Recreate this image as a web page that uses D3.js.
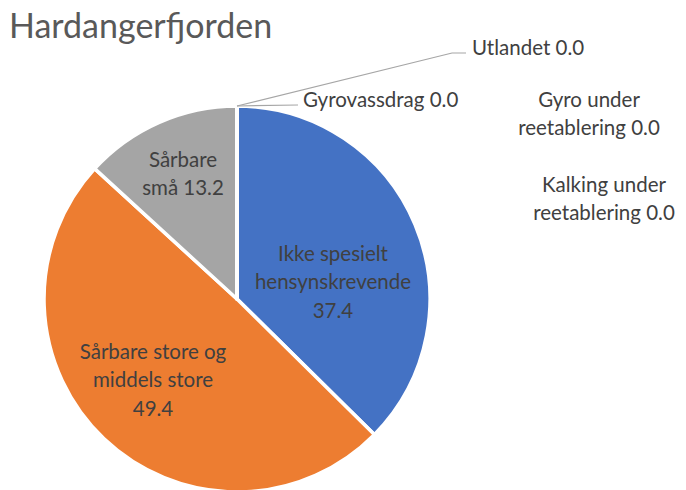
<!DOCTYPE html>
<html>
<head>
<meta charset="utf-8">
<script src="https://cdn.jsdelivr.net/npm/d3@7"></script>
<style>
  body { margin: 0; background: #fff; }
  text { font-family: Lato, "Open Sans", sans-serif; }
</style>
</head>
<body>
<svg id="chart"></svg>
<script>
// data
const categories = ["Ikke spesielt hensynskrevende", "Sårbare store og middels store", "Sårbare små",
  "Gyrovassdrag", "Utlandet", "Gyro under reetablering", "Kalking under reetablering"];
const values = [37.4, 49.4, 13.2, 0.0, 0.0, 0.0, 0.0];
const labelLines = [
  ["Ikke spesielt", "hensynskrevende"],
  ["Sårbare store og", "middels store"],
  ["Sårbare", "små"],
  ["Gyrovassdrag"],
  ["Utlandet"],
  ["Gyro under", "reetablering"],
  ["Kalking under", "reetablering"]
];
const colors = ["#4472C4", "#ED7D31", "#A5A5A5", "#FFC000", "#5B9BD5", "#70AD47", "#264478"];

const width = 686, height = 490;
const cx = 237, cy = 299, r = 193;
const lineH = 28.5;

// label anchor points (layout only), relative to pie centre
const labelPos = [
  {dx: 96, dy: -16, anchor: "middle"},
  {dx: -84, dy: 82, anchor: "middle"},
  {dx: -54, dy: -124, anchor: "middle"},
  {dx: 66, dy: -198, anchor: "start", leader: [[61, -194]]},
  {dx: 235, dy: -250, anchor: "start", leader: [[215, -246], [229, -246]]},
  {dx: 352, dy: -184, anchor: "middle"},
  {dx: 367, dy: -99, anchor: "middle"}
];

const svg = d3.select("#chart")
  .attr("width", width)
  .attr("height", height);

svg.append("text")
  .attr("x", 9)
  .attr("y", 38)
  .attr("fill", "#595959")
  .style("font-size", "34px")
  .text("Hardangerfjorden");

const pie = d3.pie().sort(null).value(d => d);
const arcs = pie(values);
const arc = d3.arc().innerRadius(0).outerRadius(r);

const g = svg.append("g")
  .attr("transform", `translate(${cx},${cy})`);

g.selectAll("path.slice")
  .data(arcs)
  .enter()
  .append("path")
  .attr("class", "slice")
  .attr("d", arc)
  .attr("fill", (d, i) => colors[i])
  .attr("stroke", "#fff")
  .attr("stroke-width", 3.5)
  .attr("stroke-linejoin", "round");

// leader lines for the zero slices
arcs.forEach((a, i) => {
  const p = labelPos[i];
  if (!p.leader) return;
  const pts = [[0, -r]].concat(p.leader);
  g.append("path")
    .attr("d", d3.line()(pts))
    .attr("fill", "none")
    .attr("stroke", "#A6A6A6")
    .attr("stroke-width", 1.2);
});

arcs.forEach((a, i) => {
  const p = labelPos[i];
  const lines = labelLines[i].slice();
  const valTxt = d3.format(".1f")(values[i]);
  if (i < 2) lines.push(valTxt);
  else lines[lines.length - 1] += " " + valTxt;
  const n = lines.length;
  const t = g.append("text")
    .attr("text-anchor", p.anchor)
    .attr("fill", "#404040")
    .style("font-size", "20.5px");
  lines.forEach((s, j) => {
    t.append("tspan")
      .attr("x", p.dx)
      .attr("y", p.dy + (j - (n - 1) / 2) * lineH + 6)
      .text(s);
  });
});
</script>
</body>
</html>
